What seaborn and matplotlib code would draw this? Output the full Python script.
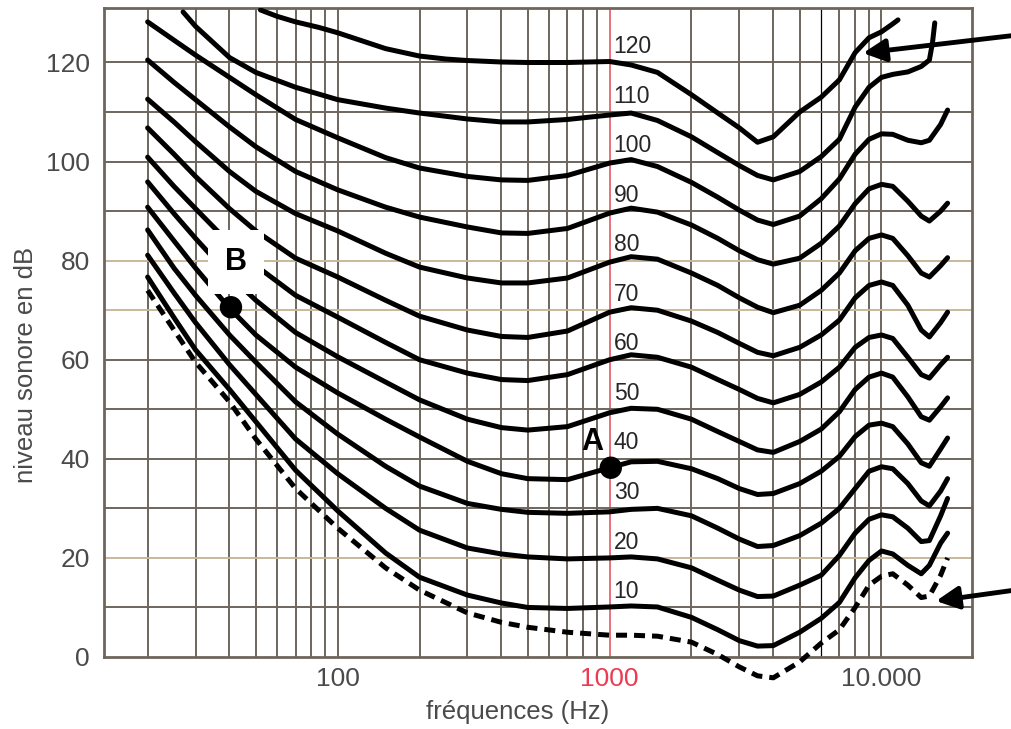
import matplotlib
matplotlib.use("Agg")
import matplotlib.pyplot as plt
import seaborn as sns

# ---------------- data ----------------
FREQ = [20, 25, 30, 40, 50, 70, 100, 150, 200, 300, 400, 500, 700, 1000, 1200, 1500,
        2000, 2500, 3000, 3500, 4000, 5000, 6000, 7000, 8000, 9000, 10000, 11000,
        12500, 14000, 15000, 16500, 17500]

THRESHOLD = [74, 66, 59.5, 51.5, 44, 34, 26, 18, 13.5, 8.9, 7, 6, 5, 4.4, 4.4, 4.2,
             3.0, 0.5, -2.0, -3.8, -4.2, -1.0, 2.8, 5.5, 10, 14.5, 16.3, 16.8,
             14.5, 12, 12.3, 16.5, 20]
PHON_10 = [76.7, 68.5, 62, 54, 47.5, 37.7, 29.5, 21, 16.1, 12.5, 10.9, 10, 9.8, 10.1, 10.3, 10.1,
           8, 5.5, 3.3, 2.2, 2.3, 5, 7.8, 11, 16, 19.5, 21.4, 20.8,
           18.5, 16.8, 18.5, 23, 25]
PHON_20 = [81.1, 73.5, 67.5, 59, 53, 44, 37, 30, 25.6, 22, 20.8, 20.2, 19.8, 20, 20.2, 19.8,
           18, 15.5, 13.5, 12.2, 12.3, 14.5, 16.5, 20.5, 25, 27.8, 28.7, 28.3,
           26, 23.3, 23.5, 28.5, 32]
PHON_30 = [86.2, 78.5, 73, 65, 59.5, 51.5, 45, 38.5, 34.5, 31, 29.8, 29.2, 29, 29.3, 29.8, 30,
           28.5, 26, 23.8, 22.3, 22.5, 24.5, 27, 30, 34, 37.5, 38.4, 38,
           35, 31.5, 30.5, 33.5, 36]
PHON_40 = [90.8, 84, 78.5, 70.4, 65, 58.5, 53.3, 48, 44.4, 39.5, 37, 36, 35.8, 38.2, 39.4, 39.5,
           38, 36, 34, 32.8, 33, 35, 37.5, 40.5, 44.5, 46.8, 47.2, 46.5,
           43, 39.2, 38.5, 42, 44.2]
PHON_50 = [95.9, 89.5, 84.5, 77, 72, 65.5, 60.6, 55.5, 51.9, 48, 46.3, 45.8, 46.5, 49.3, 50.2, 50,
           48, 45.5, 43.5, 41.8, 41.3, 43.5, 46, 49.5, 54, 56.5, 57.3, 56.5,
           52.5, 48.5, 47.8, 50.5, 52.3]
PHON_60 = [100.9, 95, 90.5, 83.5, 79, 73, 68.6, 63.5, 60, 57.3, 56, 55.8, 57, 60, 61, 60.5,
           58.5, 56, 54, 52.2, 51.3, 53, 55.5, 58.5, 62.5, 64.5, 65, 64.3,
           60.5, 57, 56.3, 59, 60.5]
PHON_70 = [106.8, 101.5, 97, 90.5, 86, 80.5, 76.7, 72, 68.8, 66, 64.7, 64.5, 65.8, 69.6, 70.5, 70,
           67.8, 65.5, 63.3, 61.5, 60.8, 62.5, 65, 68, 72.5, 75, 75.7, 75,
           71, 66, 64.6, 67.5, 69.6]
PHON_80 = [112.6, 108, 104, 98, 94, 89.5, 86, 81.5, 78.7, 76.5, 75.5, 75.5, 76.5, 79.7, 80.8, 80.3,
           77.5, 75, 72.5, 70.6, 69.5, 71, 74, 77.5, 82, 84.5, 85.2, 84.5,
           81, 77.5, 76.7, 79, 80.6]
PHON_90 = [120.5, 116, 112.5, 107, 103, 98, 94.3, 90.8, 88.8, 86.8, 85.6, 85.5, 86.5, 89.6, 90.6, 89.8,
           87.2, 84.5, 82, 80.2, 79.3, 80.5, 83.5, 87, 91.5, 94.5, 95.4, 95,
           92, 89, 88, 90, 91.6]
PHON_100 = [128.2, 124.5, 121.5, 117, 113.5, 108.5, 104.8, 100.8, 98.7, 97, 96.3, 96.2, 97.2, 99.7, 100.4, 99,
            95.8, 92.8, 90.2, 88.2, 87.3, 89, 92.5, 96.5, 101.5, 104.5, 105.6, 105.5,
            104.3, 103.8, 104.3, 107.5, 110.4]

FREQ_110 = [27, 30, 40, 50, 70, 100, 150, 200, 300, 400, 500, 700, 1000, 1200, 1500, 2000,
            2500, 3000, 3500, 4000, 5000, 6000, 7000, 8000, 9000, 10000, 11000, 12500,
            14000, 15000, 15400, 15700]
PHON_110 = [130.2, 127.3, 121, 118, 115, 112.5, 110.8, 109.8, 108.6, 108, 108, 108.5, 109.4, 109.8, 108.3, 105,
            101.8, 99.2, 97.2, 96.3, 98, 101, 104.5, 111, 115, 117, 117.6, 118.1,
            119.2, 120.5, 124, 128]

FREQ_120 = [52, 60, 70, 85, 100, 150, 200, 250, 300, 400, 500, 700, 1000, 1200, 1500, 2000, 2500,
            3000, 3500, 4000, 5000, 6000, 7000, 8000, 9000, 10000, 11000, 11500]
PHON_120 = [130.6, 129.3, 128.2, 127.1, 126, 122.8, 121.3, 120.7, 120.4, 120.1, 120, 120, 120.2, 119.5,
            118, 113.5, 109.8, 106.8, 103.9, 105, 110, 113, 116.5, 122, 125, 126.2, 127.8, 128.6]

CURVE_LEVELS = [10, 20, 30, 40, 50, 60, 70, 80, 90, 100, 110, 120]

POINT_NAMES = ["A", "B"]
POINT_FREQ = [1010, 40.5]
POINT_DB = [38.2, 70.6]

GRID_FREQ = [20, 30, 40, 50, 60, 70, 80, 90, 100, 200, 300, 400, 500, 600, 700, 800, 900,
             1000, 2000, 3000, 4000, 5000, 6000, 7000, 8000, 9000, 10000]
GRID_DB = [10, 20, 30, 40, 50, 60, 70, 80, 90, 100, 110, 120]
TAN_DB = [20, 70, 80]
Y_TICKS = [0, 20, 40, 60, 80, 100, 120]
X_TICKS = [100, 1000, 10000]
X_TICKLABELS = ["100", "1000", "10.000"]

# ---------------- style ----------------
sns.set_style("white")
plt.rcParams['font.family'] = ['Liberation Sans', 'DejaVu Sans']

GRID_DARK = "#6e665c"
TAN = "#c8b89b"
RED = "#e8707c"
TEXT = "#4a4a4a"

fig = plt.figure(figsize=(10.12, 7.29), dpi=100)
ax = fig.add_axes([104 / 1012, 1 - 657 / 729, 868 / 1012, 649 / 729])
ax.set_xscale('log')

for f in GRID_FREQ:
    if f == 1000:
        ax.axvline(f, color=RED, lw=1.4, zorder=1)
    elif f == 6000:
        ax.axvline(f, color="black", lw=0.9, zorder=1)
    else:
        ax.axvline(f, color=GRID_DARK, lw=1.4, zorder=1)
for d in GRID_DB:
    ax.axhline(d, color=TAN if d in TAN_DB else GRID_DARK, lw=1.4, zorder=1)

curves = [
    (FREQ, PHON_10), (FREQ, PHON_20), (FREQ, PHON_30), (FREQ, PHON_40),
    (FREQ, PHON_50), (FREQ, PHON_60), (FREQ, PHON_70), (FREQ, PHON_80),
    (FREQ, PHON_90), (FREQ, PHON_100), (FREQ_110, PHON_110), (FREQ_120, PHON_120),
]
for fr, vals in curves:
    sns.lineplot(x=fr, y=vals, ax=ax, color="black", lw=3.6, zorder=3,
                 estimator=None, solid_capstyle="round", solid_joinstyle="round")

sns.lineplot(x=FREQ, y=THRESHOLD, ax=ax, color="black", lw=3.6, zorder=3,
             estimator=None, linestyle=(0, (2.2, 1.4)))
ax.lines[-1].set_clip_on(False)
ax.lines[-1].set_dash_capstyle("butt")
ax.lines[-1].set_dash_joinstyle("round")

# curve labels just right of the 1000 Hz line
for lvl in CURVE_LEVELS:
    ax.text(1035, lvl + 3.2, str(lvl), fontsize=16.5, color="#262626",
            ha="left", va="center", zorder=4)

# points A and B
sns.scatterplot(x=POINT_FREQ, y=POINT_DB, ax=ax, s=260, color="black",
                edgecolor="none", zorder=6, legend=False)
ax.text(861, 43.4, POINT_NAMES[0], fontsize=22, fontweight="bold", color="black",
        ha="center", va="center", zorder=6)
ax.text(42.3, 79.7, POINT_NAMES[1], fontsize=22, fontweight="bold", color="black",
        ha="center", va="center", zorder=5,
        bbox=dict(boxstyle="square,pad=0.55", facecolor="white", edgecolor="none"))

# arrows
arrow_kw = dict(arrowstyle="-|>,head_length=0.8,head_width=0.4", color="black",
                lw=3.5, mutation_scale=17, shrinkA=0, shrinkB=0)
ax.annotate("", xy=(8551, 121.9), xytext=(1.05, 0.958), textcoords="axes fraction",
            arrowprops=arrow_kw, annotation_clip=False, zorder=7)
ax.annotate("", xy=(15862, 11.3), xytext=(1.05, 0.1032), textcoords="axes fraction",
            arrowprops=arrow_kw, annotation_clip=False, zorder=7)

ax.set_xlim(13.82, 21520)
ax.set_ylim(0, 131)
ax.set_yticks(Y_TICKS)
ax.set_yticklabels([str(v) for v in Y_TICKS])
ax.set_xticks(X_TICKS)
ax.set_xticklabels(X_TICKLABELS)
ax.minorticks_off()
ax.tick_params(axis="both", length=0, labelsize=19, labelcolor=TEXT)
ax.tick_params(axis="y", pad=10)
ax.tick_params(axis="x", pad=7)
for lab in ax.get_xticklabels():
    if lab.get_text() == "1000":
        lab.set_color("#ec3a52")

for s in ax.spines.values():
    s.set_color(GRID_DARK)
    s.set_linewidth(2)
    s.set_zorder(2)

ax.set_xlabel("fréquences (Hz)", fontsize=18.5, color=TEXT)
ax.xaxis.set_label_coords(0.476, -0.066)
ax.set_ylabel("niveau sonore en dB", fontsize=18.5, color=TEXT)
ax.yaxis.set_label_coords(-0.076, 0.45)

fig.savefig("out.png", dpi=100)
